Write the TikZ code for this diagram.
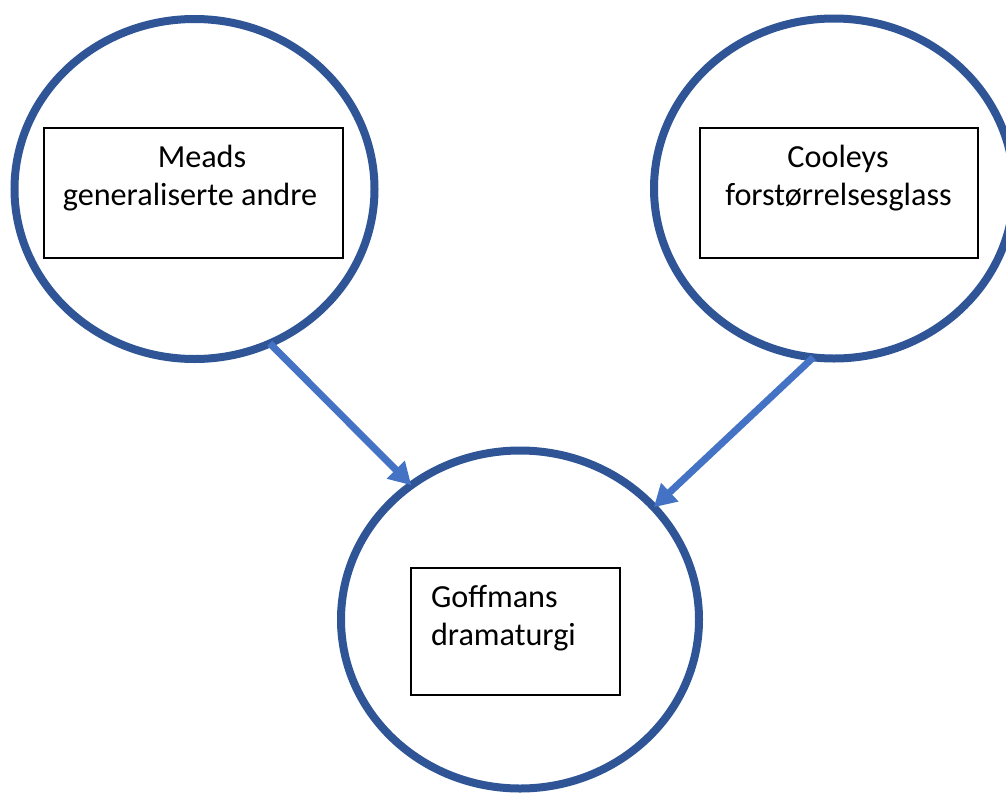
\documentclass[tikz,border=0pt]{standalone}
\usepackage{fontspec}
\setmainfont{Carlito}
\usetikzlibrary{shapes.geometric,arrows.meta}
\definecolor{ringblue}{HTML}{2F5597}
\definecolor{arrowblue}{HTML}{4472C4}
\begin{document}
\begin{tikzpicture}[x=1pt,y=-1pt,
  ring/.style={ellipse,draw=ringblue,line width=8pt,fill=white,inner sep=0pt,outer sep=0pt,minimum width=360pt,minimum height=340pt},
  tbox/.style={draw=black,line width=1.1pt,inner sep=0pt,outer sep=0pt,fill=white},
  lbl/.style={font=\fontsize{32.2}{38}\selectfont,inner sep=0pt,outer sep=0pt},
  link/.style={draw=arrowblue,line width=7pt,-{Triangle[length=22pt,width=24pt]}}]
\useasboundingbox (0,0) rectangle (1006,793);
\fill[white] (0,0) rectangle (1006,793);
% circles
\node[ring] (mead) at (194.5,189) {};
\node[ring] (cool) at (834,188.5) {};
\node[ring,minimum width=358pt,minimum height=338pt] (goff) at (520,619.5) {};
% boxes
\node[tbox,minimum width=299pt,minimum height=130pt] (mbox) at (193.5,193) {};
\node[tbox,minimum width=278pt,minimum height=130pt] (cbox) at (839,193) {};
\node[tbox,minimum width=209pt,minimum height=127pt] (gbox) at (515.5,631.5) {};
% texts
\node[lbl,anchor=base] (m1) at (202,167) {Meads};
\node[lbl,anchor=base] (m2) at (190,205) {generaliserte andre};
\node[lbl,anchor=base] (c1) at (838,167) {Cooleys};
\node[lbl,anchor=base] (c2) at (838.5,205) {forstørrelsesglass};
\node[lbl,anchor=base west] (g1) at (431,607) {Goffmans};
\node[lbl,anchor=base west] (g2) at (431,645) {dramaturgi};
% arrows
\draw[link] (mead.-64.8) -- (goff.129.9);
\draw[link] (cool.-97.9) -- (goff.40.3);
\end{tikzpicture}
\end{document}
